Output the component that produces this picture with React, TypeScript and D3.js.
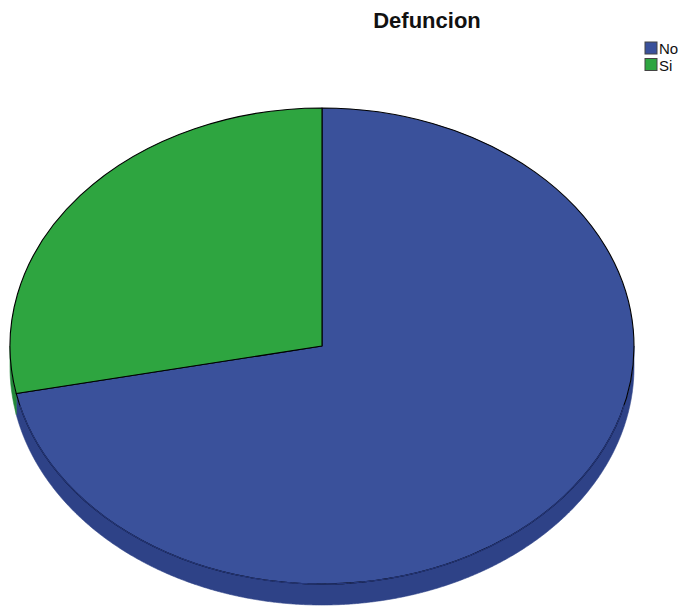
import React from "react";
import * as d3 from "d3";

// Defuncion: share of cases by outcome
const categories: string[] = ["No", "Si"];
const percents: number[] = [71.8, 28.2];
const topColors: string[] = ["#3a519b", "#2ea540"];
const sideColors: string[] = ["#2e4287", "#24883a"];

const W = 685;
const H = 607;
const cx = 322;
const cy = 346;
const rx = 312;
const ry = 238;
const depth = 21;

export default function App() {
  const pie = d3
    .pie<number>()
    .sort(null)
    .value((d) => d)
    .startAngle(0)
    .endAngle(2 * Math.PI);
  const slices = pie(percents);
  const arcGen = d3
    .arc<d3.PieArcDatum<number>>()
    .innerRadius(0)
    .outerRadius(rx);
  const k = ry / rx;

  // point on the rim, angle measured clockwise from 12 o'clock
  const rim = (a: number, dy = 0): [number, number] => [
    cx + rx * Math.sin(a),
    cy - ry * Math.cos(a) + dy,
  ];

  // visible wall of a slice (front half of the disc only)
  const wall = (a0: number, a1: number): string | null => {
    const s = Math.max(a0, Math.PI / 2);
    const e = Math.min(a1, (3 * Math.PI) / 2);
    if (e <= s) return null;
    const angles = d3.range(s, e, 0.005).concat([e]);
    const upper = angles.map((a) => rim(a));
    const lower = angles
      .slice()
      .reverse()
      .map((a) => rim(a, depth));
    return (d3.line()([...upper, ...lower]) as string) + "Z";
  };

  // front rim of the top face, drawn in the wall tone to soften the outline
  const frontAngles = d3.range(Math.PI / 2 + 0.25, (3 * Math.PI) / 2 - 0.25, 0.005);
  const frontRim = d3.line()(frontAngles.map((a) => rim(a))) as string;

  const font = "'Liberation Sans', Arial, Helvetica, sans-serif";

  return (
    <svg
      width={W}
      height={H}
      viewBox={`0 0 ${W} ${H}`}
      style={{ position: "absolute", left: 0, top: 0, background: "#fff" }}
    >
      <text
        x={427}
        y={28}
        textAnchor="middle"
        fontFamily={font}
        fontWeight="bold"
        fontSize={22}
        fill="#111"
      >
        Defuncion
      </text>

      <g>
        {slices.map((s, i) => {
          const d = wall(s.startAngle, s.endAngle);
          return d ? (
            <path
              key={"w" + i}
              d={d}
              fill={sideColors[i]}
              stroke={sideColors[i]}
              strokeWidth={0.6}
            />
          ) : null;
        })}
      </g>

      <g transform={`translate(${cx},${cy}) scale(1,${k})`}>
        {slices.map((s, i) => (
          <path
            key={"t" + i}
            d={arcGen(s) as string}
            fill={topColors[i]}
            stroke="#000"
            strokeWidth={1.1}
            vectorEffect="non-scaling-stroke"
            strokeLinejoin="round"
          />
        ))}
      </g>

      <path d={frontRim} fill="none" stroke="#24367a" strokeWidth={1.2} />

      <g fontFamily={font} fontSize={15} fill="#111">
        {categories.map((c, i) => (
          <g key={c} transform={`translate(645,${42 + i * 16.5})`}>
            <rect
              x={0}
              y={0}
              width={12}
              height={12}
              fill={topColors[i]}
              stroke="#444"
              strokeWidth={1}
            />
            <text x={14} y={12}>
              {c}
            </text>
          </g>
        ))}
      </g>
    </svg>
  );
}
